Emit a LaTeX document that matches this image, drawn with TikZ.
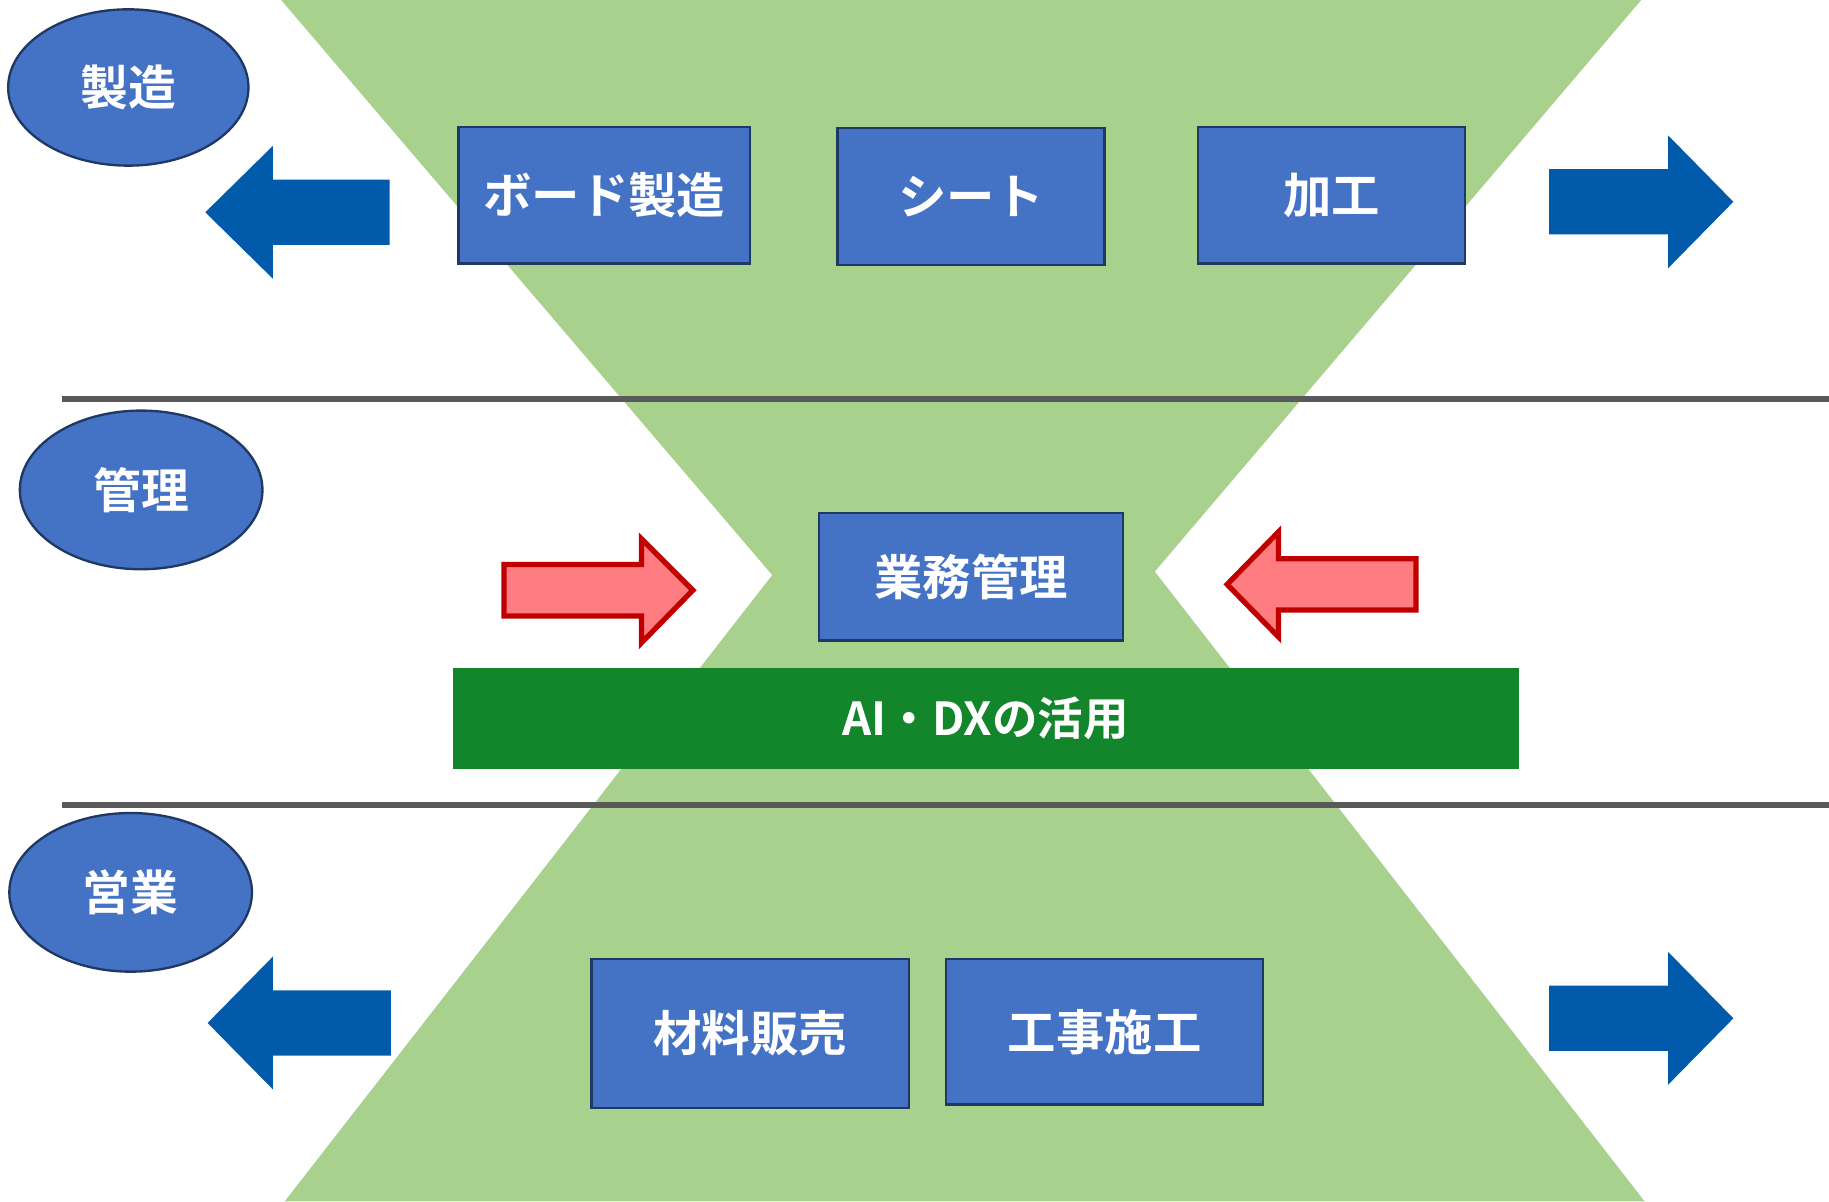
\documentclass[tikz,border=0pt]{standalone}
\usepackage{fontspec}
\setmainfont{Noto Sans CJK JP}[BoldFont={Noto Sans CJK JP Bold}]
\definecolor{hgreen}{HTML}{A9D18E}
\definecolor{boxblue}{HTML}{4472C4}
\definecolor{boxedge}{HTML}{1F3864}
\definecolor{arrblue}{HTML}{015AAA}
\definecolor{linegray}{HTML}{595959}
\definecolor{bargreen}{HTML}{13852A}
\definecolor{redfill}{HTML}{FF7C80}
\definecolor{rededge}{HTML}{C00000}
\tikzset{
  bluebox/.style={draw=boxedge, line width=2pt, fill=boxblue, text=white, font=\bfseries\fontsize{41.5}{43}\selectfont, inner sep=0pt},
  dept/.style={ellipse, draw=boxedge, line width=2pt, fill=boxblue, text=white, font=\bfseries\fontsize{41}{43}\selectfont, inner sep=0pt},
  sep/.style={linegray, line width=5pt},
  bluearrow/.style={fill=arrblue},
  redarrow/.style={fill=redfill, draw=rededge, line width=4.5pt, miter limit=10}
}
\usetikzlibrary{shapes.geometric}
\begin{document}
\begin{tikzpicture}[x=1pt,y=-1pt]
\useasboundingbox (0,0) rectangle (1568,1030);
% hourglass
\fill[hgreen] (241,0) -- (1407,0) -- (990,490) -- (1410,1030) -- (244,1030) -- (662,493) -- cycle;
% separator lines
\draw[sep] (53,342) -- (1568,342);
\draw[sep] (53,690) -- (1568,690);
% departments
\node[dept, minimum width=206pt, minimum height=134pt] (seizo) at (110,75) {製造};
\node[dept, minimum width=208pt, minimum height=136pt] (kanri) at (121,420) {管理};
\node[dept, minimum width=208pt, minimum height=136pt] (eigyo) at (112,765) {営業};
% boxes
\node[bluebox, minimum width=250pt, minimum height=117pt] (board) at (518,167.5) {ボード製造};
\node[bluebox, minimum width=229pt, minimum height=117pt] (sheet) at (832.5,168.5) {シート};
\node[bluebox, minimum width=229pt, minimum height=117pt] (kako) at (1141.5,167.5) {加工};
\node[bluebox, minimum width=261pt, minimum height=109pt] (gyomu) at (832.5,494.5) {業務管理};
\node[fill=bargreen, text=white, font=\bfseries\fontsize{39}{41}\selectfont, minimum width=914pt, minimum height=86pt, inner sep=0pt] (ai) at (845,616) {AI・DXの活用};
\node[bluebox, minimum width=272pt, minimum height=128pt] (zairyo) at (643,886) {材料販売};
\node[bluebox, minimum width=272pt, minimum height=125pt] (koji) at (947,884.5) {工事施工};
% blue arrows
\fill[bluearrow] (176,182) -- (234,125) -- (234,154) -- (334,154) -- (334,210) -- (234,210) -- (234,239) -- cycle;
\fill[bluearrow] (1328,145) -- (1430,145) -- (1430,116) -- (1486,173) -- (1430,230) -- (1430,201) -- (1328,201) -- cycle;
\fill[bluearrow] (178,877) -- (234,820) -- (234,849) -- (335,849) -- (335,905) -- (234,905) -- (234,934) -- cycle;
\fill[bluearrow] (1328,845) -- (1430,845) -- (1430,816) -- (1486,873) -- (1430,930) -- (1430,901) -- (1328,901) -- cycle;
% red arrows
\draw[redarrow] (432,484) -- (550,484) -- (550,462) -- (594,506) -- (550,551) -- (550,528) -- (432,528) -- cycle;
\draw[redarrow] (1214,479) -- (1096,479) -- (1096,456) -- (1052,501) -- (1096,546) -- (1096,523) -- (1214,523) -- cycle;
\end{tikzpicture}
\end{document}
